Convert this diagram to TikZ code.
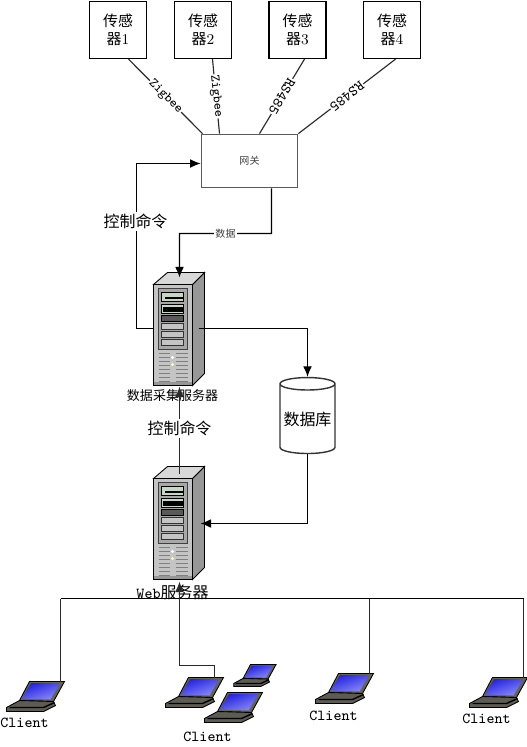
\documentclass[tikz,border=0pt]{standalone}
\usepackage{xcolor}
\usepackage{fontspec}
\usetikzlibrary{arrows.meta,positioning,calc,shapes.geometric}
\newfontfamily\cjk{Noto Sans CJK SC}
\definecolor{linegray}{HTML}{2A2A2A}
\definecolor{boxgray}{HTML}{5A5A5A}
\definecolor{caseface}{HTML}{C4C4C4}
\definecolor{caseside}{HTML}{979797}
\definecolor{casetop}{HTML}{D8D8D8}
\definecolor{bayface}{HTML}{A8A8A8}
\definecolor{baygreen}{HTML}{C4D8C4}
\definecolor{lapblue}{HTML}{2020E0}
\definecolor{lapsky}{HTML}{8A8AF5}
\definecolor{lapdeck}{HTML}{5C5C52}
\definecolor{lapbezel}{HTML}{66664C}

\tikzset{
  pics/server/.style={code={
    \fill[caseside, draw=black, line width=0.5pt] (39,0) -- (51,-12) -- (51,89) -- (39,101) -- cycle;
    \fill[casetop, draw=black, line width=0.5pt] (0,0) -- (14,-12) -- (51,-12) -- (39,0) -- cycle;
    \fill[caseface, draw=black, line width=0.6pt] (0,0) rectangle (39,101);
    \fill[caseside] (0.5,97) rectangle (38.5,100.5);
    \fill[bayface, draw=black!75, line width=0.6pt] (5,4) rectangle (34,65);
    \fill[baygreen, draw=black, line width=0.5pt] (8,8) rectangle (30,17);
    \fill[black] (11,12) rectangle (29,14.5);
    \fill[baygreen, draw=black, line width=0.5pt] (8,20) rectangle (30,29);
    \fill[black] (9,22) rectangle (29,27);
    \fill[black!65, draw=black, line width=0.5pt] (8,31) rectangle (30,37);
    \foreach \bay in {39,47,55} {
      \fill[caseface, draw=black!80, line width=0.5pt] (8,\bay) rectangle (30,\bay+5.5);
    }
    \foreach \vent in {69,73,...,97} {
      \draw[black!50, line width=0.6pt] (5,\vent) -- (16,\vent);
      \draw[black!50, line width=0.6pt] (22,\vent) -- (34,\vent);
    }
    \fill[white] (19,73) circle (1.6);
    \fill[white!70!yellow] (19,80) circle (1.6);
    \coordinate (-n) at (26,-12);
    \coordinate (-s) at (26,101);
    \coordinate (-w) at (0,44);
    \coordinate (-e) at (45,44);
  }},
  pics/laptop/.style={code={
    \fill[lapbezel, draw=black, line width=0.5pt] (0,0) -- (35,0) -- (24,20) -- (-10,19) -- cycle;
    \shade[left color=lapblue, right color=lapsky, shading angle=20] (1.7,1.5) -- (30.5,1.5) -- (21,18) -- (-8.3,17) -- cycle;
    \fill[lapdeck, draw=black, line width=0.5pt] (-10,19) -- (24,20) -- (26,24) -- (14,30) -- (-23,30) -- (-23,26) -- cycle;
    \draw[black, line width=0.8pt] (-20,26) -- (14,26) -- (25,21);
    \coordinate (-hook) at (31,0);
  }},
}

\begin{document}
\begin{tikzpicture}[
  x=0.02cm, y=-0.02cm,
  sensor/.style={draw=black, line width=0.75pt, minimum width=1.14cm, minimum height=1.14cm, inner sep=0pt, align=center, font=\cjk\fontsize{8.5}{10.2}\selectfont},
  link/.style={draw=linegray, line width=0.65pt},
  arrow/.style={-{Latex[length=6pt,width=5pt]}, draw=black, line width=0.65pt},
  lbl/.style={font=\fontsize{7.6}{9}\selectfont\ttfamily, fill=white, inner sep=0.5pt},
  big/.style={font=\cjk\fontsize{9.1}{11}\selectfont, fill=white, inner sep=1pt},
  small/.style={font=\cjk\fontsize{5.7}{7}\selectfont, text=black!75, fill=white, inner sep=1pt},
  caption/.style={font=\cjk\fontsize{7.4}{9}\selectfont, inner sep=0pt},
  client/.style={font=\fontsize{8.7}{10}\selectfont\ttfamily, inner sep=0pt},
]
\useasboundingbox (-0.5,-0.5) rectangle (526.5,746.5);
\fill[white] (-0.5,-0.5) rectangle (526.5,746.5);

% Sensors and gateway
\node[sensor] (sensor1) at (117.5,29.5) {传感\\器{\rmfamily 1}};
\node[sensor] (sensor2) at (202.5,29.5) {传感\\器{\rmfamily 2}};
\node[sensor] (sensor3) at (297,29.5) {传感\\器{\rmfamily 3}};
\node[sensor] (sensor4) at (391.5,29.5) {传感\\器{\rmfamily 4}};
\node[draw=boxgray, line width=1pt, minimum width=1.92cm, minimum height=1.06cm, inner sep=0pt, small] (gateway) at (249,160.5) {网关};

% Servers
\pic (collect) at (153,284) {server};
\pic (web) at (153,478) {server};
\node[caption] (collectname) at (172,395) {数据采集服务器};
\node[caption, font=\cjk\fontsize{9.1}{11}\selectfont] (webname) at (172,592) {{\ttfamily\fontsize{8.7}{10}\selectfont Web}服务器};

% Database
\node[draw=black!80, line width=0.8pt, shape=cylinder, shape border rotate=90, aspect=0.26, minimum width=1.1cm, minimum height=1.52cm, inner sep=0pt, fill=white, font=\cjk\fontsize{9.1}{11}\selectfont] (db) at (307,418.5) {数据库};

% Clients
\pic (lap1) at (29,681) {laptop};
\pic (lap2) at (188,677) {laptop};
\pic[scale=0.73] (lap2b) at (250,664) {laptop};
\pic (lap2c) at (227,692) {laptop};
\pic (lap3) at (338,673) {laptop};
\pic (lap4) at (492,677) {laptop};
\node[client] (client1) at (24,722) {Client};
\node[client] (client2) at (207,736) {Client};
\node[client] (client3) at (333,715) {Client};
\node[client] (client4) at (486,718) {Client};

% Sensor links
\draw[link] ([xshift=0.21cm]sensor1.south) -- node[lbl, rotate=-45]{Zigbee} ([xshift=-0.94cm]gateway.north);
\draw[link] ([xshift=0.19cm]sensor2.south) -- node[lbl, rotate=-84]{Zigbee} ([xshift=-0.6cm]gateway.north);
\draw[link] ([xshift=0.14cm]sensor3.south) -- node[lbl, rotate=239, font=\fontsize{8.4}{9}\selectfont\ttfamily]{RS485} ([xshift=0.2cm]gateway.north);
\draw[link] ([xshift=0.07cm]sensor4.south) -- node[lbl, rotate=218, font=\fontsize{8.4}{9}\selectfont\ttfamily]{RS485} (gateway.north east);

% Data and control paths
\coordinate (dataturn) at (271,233);
\draw[arrow] ([xshift=0.44cm]gateway.south) -- (dataturn) -- node[small]{数据} (dataturn -| collect-n) -- ([yshift=-0.1cm]collect-n);
\draw[arrow] (collect-w) -- ++(-17,0) |- ([yshift=-0.05cm]gateway.west);
\node[big] (ctrltop) at (135,221) {控制命令};
\draw[arrow] (collect-e) -| (db.north);
\draw[arrow] (db.south) |- ([xshift=0.04cm,yshift=-0.02cm]web-e);
\draw[arrow, draw=linegray] ([yshift=-0.14cm]web-n) -- ([yshift=-0.02cm]collect-s);
\node[big] (ctrlmid) at (179,428) {控制命令};

% Client bus
\coordinate (busleft) at (60,598);
\coordinate (busright) at (523,598);
\draw[link, draw=black] (busleft) -- (busright);
\draw[link] (busleft) -- (lap1-hook);
\draw[link] (lap3-hook |- busleft) -- (lap3-hook);
\draw[link] (lap4-hook |- busleft) -- (lap4-hook);
\draw[arrow, draw=linegray] ([xshift=-0.1cm]lap2-hook) |- (179,665) -- ([yshift=-0.04cm]web-s);
\end{tikzpicture}
\end{document}
